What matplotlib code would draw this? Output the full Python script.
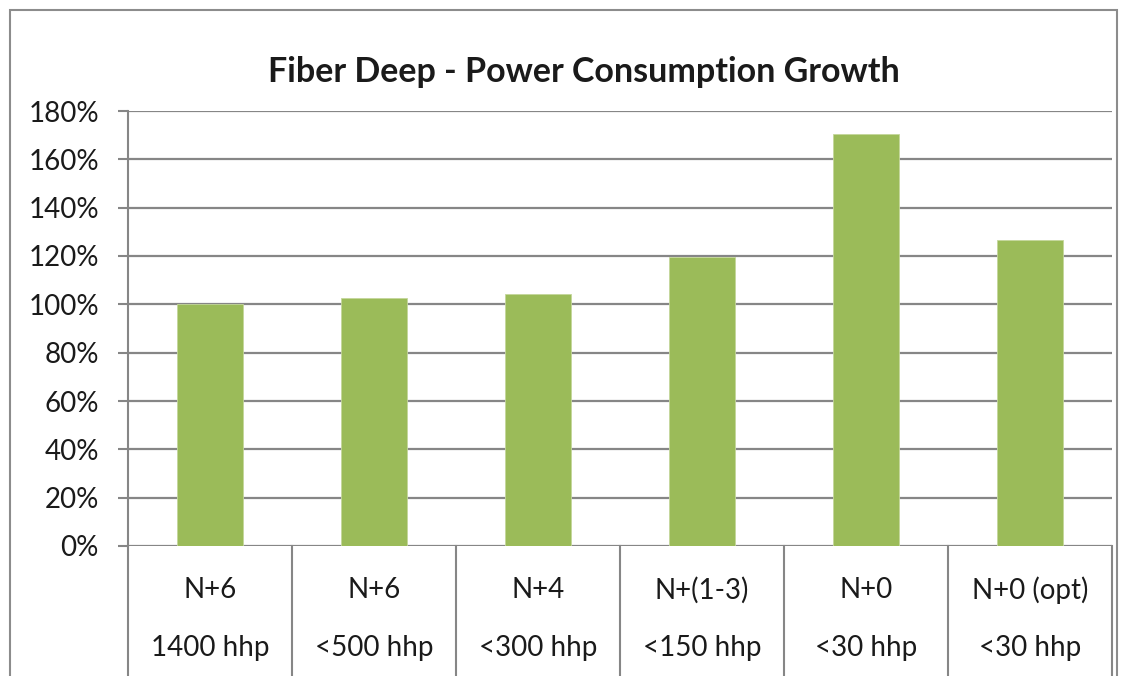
import matplotlib.pyplot as plt
import matplotlib.transforms as mtransforms
from matplotlib.patches import Rectangle

# data
nodes = ["N+6", "N+6", "N+4", "N+(1-3)", "N+0", "N+0 (opt)"]
homes = ["1400 hhp", "<500 hhp", "<300 hhp", "<150 hhp", "<30 hhp", "<30 hhp"]
growth = [100.3, 102.6, 104.3, 119.6, 170.3, 126.8]
yticks = [0, 20, 40, 60, 80, 100, 120, 140, 160, 180]

plt.rcParams['font.family'] = ['Lato', 'DejaVu Sans']
GRID = '#868686'
BAR = '#9BBB59'

fig = plt.figure(figsize=(11.28, 6.76), dpi=100)
fig.patch.set_facecolor('white')

# outer chart border (bottom runs off the image)
fig.patches.append(Rectangle((10 / 1128, -0.05), 1107 / 1128, 1 - 10 / 676 + 0.05,
                             transform=fig.transFigure, fill=False,
                             edgecolor='#8c8c8c', linewidth=1.5))

ax = fig.add_axes([128 / 1128, 1 - 546 / 676, (1112 - 128) / 1128, (546 - 111) / 676])
x = list(range(len(growth)))
ax.bar(x, growth, width=0.4, color=BAR, edgecolor='#c4d79b', linewidth=0.6, zorder=3)

ax.set_xlim(-0.5, len(growth) - 0.5)
ax.set_ylim(0, 180)
ax.set_yticks(yticks)
ax.set_yticklabels([f"{v}%" for v in yticks], fontsize=20, color='#1a1a1a')
ax.tick_params(axis='y', length=7, width=1.5, color=GRID, pad=14)
ax.set_xticks([])
ax.yaxis.grid(True, color=GRID, linewidth=1.6, zorder=0)
for s in ['top', 'right', 'bottom']:
    ax.spines[s].set_visible(False)
ax.spines['left'].set_color(GRID)
ax.spines['left'].set_linewidth(1.5)

# multi-level category axis
trans = mtransforms.blended_transform_factory(ax.transData, ax.transAxes)
for k in range(len(growth) + 1):
    ax.plot([k - 0.5, k - 0.5], [0, -0.35], transform=trans, color=GRID,
            linewidth=1.5, clip_on=False)
for i in x:
    ax.text(i, -0.101, nodes[i], transform=trans, ha='center', va='center',
            fontsize=20, color='#1a1a1a')
    ax.text(i, -0.235, homes[i], transform=trans, ha='center', va='center',
            fontsize=20, color='#1a1a1a')

fig.text(584 / 1128, 1 - 72 / 676, "Fiber Deep - Power Consumption Growth",
         ha='center', va='center', fontsize=24.5, fontweight='bold', color='#1a1a1a')

fig.savefig("out.png", dpi=100)
